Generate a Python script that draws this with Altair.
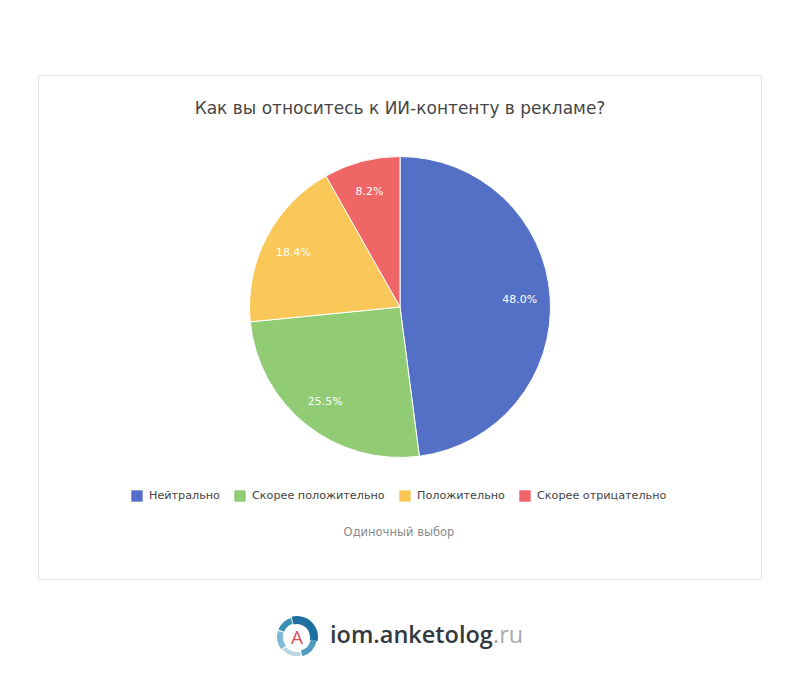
import altair as alt
import pandas as pd

categories = ["Нейтрально", "Скорее положительно", "Положительно", "Скорее отрицательно"]
values = [48.0, 25.5, 18.4, 8.2]
colors = ["#5470c6", "#91cc75", "#fac858", "#ee6666"]
order = [0, 1, 2, 3]
title_text = "Как вы относитесь к ИИ-контенту в рекламе?"
subtitle_text = "Одиночный выбор"

logo_start = [345, 292, 232, 168, 100]
logo_end = [462, 342, 288, 228, 164]
logo_colors = ["#1c6f9f", "#3a8fb5", "#7fb9d3", "#b9d6e2", "#4f9cc0"]
logo_outer = [21, 20, 20, 19, 20]
logo_inner = [13, 14, 14, 15, 14]

W, H = 784, 679
CX, CY = 392, 299
RAD = 3.14159265 / 180

df = pd.DataFrame({
    "category": categories,
    "value": values,
    "order": order,
    "label": [f"{v:.1f}%" for v in values],
})
one = alt.Data(values=[{}])

card = alt.Chart(one).mark_rect(fill="white", stroke="#e4e4e4", strokeWidth=1).encode(
    x=alt.value(30.5), x2=alt.value(753.5), y=alt.value(67.5), y2=alt.value(571.5)
)

theta = alt.Theta("value:Q", stack=True, scale=alt.Scale(domain=[0, sum(values)]))
base = alt.Chart(alt.Data(values=df.to_dict("records"))).encode(
    theta=theta, order=alt.Order("order:Q")
)
pie = base.mark_arc(outerRadius=150.5, stroke="white", strokeWidth=1).encode(
    x=alt.value(CX), y=alt.value(CY),
    color=alt.Color(
        "category:N",
        scale=alt.Scale(domain=categories, range=colors),
        legend=alt.Legend(
            title=None, orient="none", legendX=123, legendY=482,
            direction="horizontal", columns=4, gridAlign="none",
            symbolType="square", symbolSize=130, symbolStrokeWidth=0,
            symbolOpacity=1, labelFont="DejaVu Sans", labelFontSize=11.2,
            labelColor="#444444", columnPadding=14, labelOffset=6,
            labelLimit=300,
        ),
    ),
)
labels = base.mark_text(
    radius=120, color="white", font="DejaVu Sans", fontSize=11, align="center", baseline="middle", dy=1
).encode(x=alt.value(CX), y=alt.value(CY), text="label:N")

subtitle = alt.Chart(one).mark_text(
    font="DejaVu Sans", fontSize=11.5, color="#8a8a8a", align="center", baseline="middle"
).encode(x=alt.value(391), y=alt.value(525), text=alt.value(subtitle_text))

logo_layers = [
    alt.Chart(one).mark_arc(
        outerRadius=o, innerRadius=i, color=c, theta=s * RAD, theta2=e * RAD,
    ).encode(x=alt.value(289), y=alt.value(629))
    for s, e, c, o, i in zip(logo_start, logo_end, logo_colors, logo_outer, logo_inner)
]
logo_a = alt.Chart(one).mark_text(
    font="Open Sans", fontSize=19, color="#d9505c", align="center", baseline="middle"
).encode(x=alt.value(289), y=alt.value(630), text=alt.value("A"))
logo_text = alt.Chart(one).mark_text(
    font="Open Sans", fontSize=23.5, fontWeight=600, color="#33393f", align="left", baseline="middle"
).encode(x=alt.value(322), y=alt.value(628), text=alt.value("iom.anketolog"))
logo_ru = alt.Chart(one).mark_text(
    font="Open Sans", fontSize=23.5, color="#a5abb0", align="left", baseline="middle"
).encode(x=alt.value(485), y=alt.value(628), text=alt.value(".ru"))

chart = alt.layer(
    card, pie, labels, subtitle, *logo_layers, logo_a, logo_text, logo_ru
).properties(
    width=W, height=H,
    padding=0,
    autosize=alt.AutoSizeParams(type="none"),
    background="white",
    title=alt.TitleParams(
        title_text, font="DejaVu Sans", fontSize=17, fontWeight="normal", color="#464646",
        anchor="middle", orient="top", baseline="middle", offset=-118,
    ),
).configure_view(stroke=None)

chart.save("out.html", embed_options={"renderer": "svg", "actions": False})
